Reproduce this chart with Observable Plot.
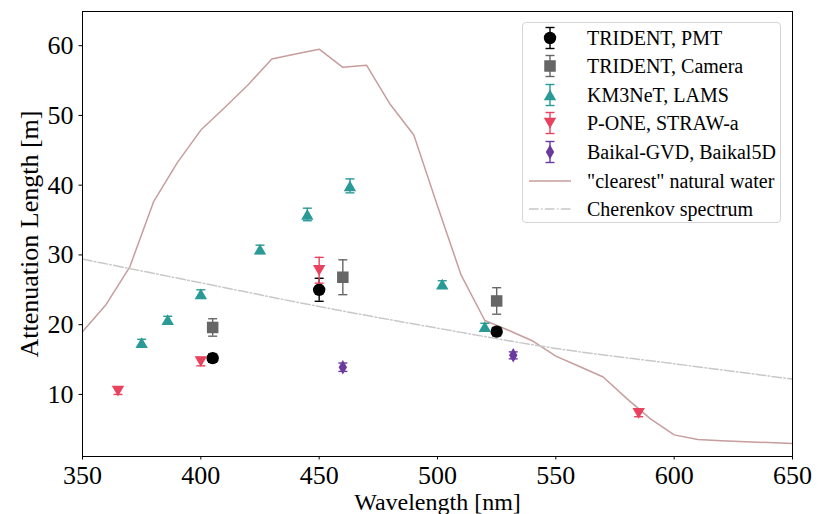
<!DOCTYPE html>
<html>
<head>
<meta charset="utf-8">
<script src="https://cdn.jsdelivr.net/npm/d3@7"></script>
<script src="https://cdn.jsdelivr.net/npm/@observablehq/plot@0.6"></script>
<style>
  body { margin: 0; background: #fff; }
  #wrap { position: relative; width: 818px; height: 514px; overflow: hidden; background: #fff; }
  #legend { position: absolute; left: 522px; top: 22px; width: 259px; height: 201px;
    border: 1px solid #d4d4d4; border-radius: 4px; background: rgba(255,255,255,0.85);
    font-family: "Liberation Serif", "Times New Roman", serif; font-size: 20px; color: #000; box-sizing: border-box; }
  .row { position: absolute; left: 0; height: 28px; width: 258px; }
  .row svg { position: absolute; left: 0; top: 0; }
  .row span { position: absolute; left: 64px; top: 0; line-height: 28px; white-space: nowrap; }
</style>
</head>
<body>
<div id="wrap"><div id="legend"></div></div>
<script>
// ---- data ----
const xTicks = [350, 400, 450, 500, 550, 600, 650];
const yTicks = [10, 20, 30, 40, 50, 60];

const pmtX = [405, 450, 525];
const pmtY = [15.2, 25.0, 19.0];
const pmtErr = [0.6, 1.65, 0.6];

const camX = [405, 460, 525];
const camY = [19.6, 26.8, 23.4];
const camErr = [1.25, 2.5, 1.9];

const lamsX = [375, 386, 400, 425, 445, 463, 502, 520];
const lamsY = [17.4, 20.7, 24.4, 30.8, 35.8, 39.9, 25.8, 19.7];
const lamsErr = [0.5, 0.5, 0.6, 0.6, 0.9, 1.0, 0.5, 0.5];

const poneX = [365, 400, 450, 585];
const poneY = [10.5, 14.7, 27.8, 7.3];
const poneErr = [0.5, 0.6, 1.85, 0.5];

const baikalX = [460, 532];
const baikalY = [13.9, 15.6];
const baikalErr = [0.6, 0.5];

const waterX = [350, 360, 370, 380, 390, 400, 410, 420, 430, 440, 450, 460, 470, 480, 490, 500,
                510, 520, 530, 540, 550, 560, 570, 580, 590, 600, 610, 620, 630, 640, 650];
const waterY = [19.0, 22.9, 28.3, 37.6, 43.2, 47.9, 51.1, 54.4, 58.1, 58.8, 59.5, 56.9, 57.2, 51.6, 47.2, 37.0,
                27.1, 20.6, 19.2, 17.7, 15.5, 14.0, 12.5, 9.4, 6.5, 4.2, 3.55, 3.35, 3.2, 3.1, 2.95];

const cherX = [350, 400, 450, 500, 550, 600, 650];
const cherY = [29.4, 26.0, 22.6, 19.5, 16.6, 14.4, 12.2];

const seriesNames = ["TRIDENT, PMT", "TRIDENT, Camera", "KM3NeT, LAMS", "P-ONE, STRAW-a", "Baikal-GVD, Baikal5D"];
const lineNames = ["\"clearest\" natural water", "Cherenkov spectrum"];

// ---- styling ----
const colors = ["#000000", "#666666", "#2a9a96", "#e8425f", "#6a3a9e"];
const waterColor = "#c79d9d";
const cherColor = "#c8c8c8";
const dashDot = "9.6,2.4,1.5,2.4";

const mk = (xs, ys, es) => xs.map((x, i) => ({x, y: ys[i], lo: ys[i] - es[i], hi: ys[i] + es[i]}));
const pts = (xs, ys) => xs.map((x, i) => ({x, y: ys[i]}));

const capSymbol = {draw(ctx, size) { const w = Math.sqrt(size); ctx.moveTo(-w / 2, 0); ctx.lineTo(w / 2, 0); }};
const capR = Math.sqrt(81 / Math.PI);

const specs = [
  {data: mk(pmtX, pmtY, pmtErr), symbol: "circle", r: 6.2, rotate: 0, dy: 0},
  {data: mk(camX, camY, camErr), symbol: "square", r: 6.5, rotate: 0, dy: 0},
  {data: mk(lamsX, lamsY, lamsErr), symbol: "triangle", r: 4.6, rotate: 0, dy: 1.7},
  {data: mk(poneX, poneY, poneErr), symbol: "triangle", r: 4.6, rotate: 180, dy: -1.7},
  {data: mk(baikalX, baikalY, baikalErr), symbol: "diamond", r: 4.4, rotate: 0, dy: 0}
];

function seriesMarks(s, color) {
  return [
    Plot.ruleX(s.data, {x: "x", y1: "lo", y2: "hi", stroke: color, strokeWidth: 1.4}),
    Plot.dot(s.data, {x: "x", y: "lo", symbol: capSymbol, r: capR, fill: "none", stroke: color, strokeWidth: 1.4}),
    Plot.dot(s.data, {x: "x", y: "hi", symbol: capSymbol, r: capR, fill: "none", stroke: color, strokeWidth: 1.4}),
    Plot.dot(s.data, {x: "x", y: "y", symbol: s.symbol, r: s.r, fill: color, stroke: "none", rotate: s.rotate, dy: s.dy})
  ];
}

const chart = Plot.plot({
  width: 818, height: 514,
  marginLeft: 82, marginRight: 26, marginTop: 11, marginBottom: 58,
  style: {fontFamily: "'Liberation Serif', 'Times New Roman', serif", fontSize: "26px", color: "#000", background: "transparent"},
  x: {domain: [350, 650]},
  y: {domain: [1.1, 64.9]},
  marks: [
    Plot.axisX({ticks: xTicks, tickSize: 3.5, label: null}),
    Plot.axisX({ticks: [], tickSize: 0, label: "Wavelength [nm]", labelAnchor: "center", labelOffset: 53, labelArrow: "none", fontSize: 24}),
    Plot.axisY({ticks: yTicks, tickSize: 3.5, label: "Attenuation Length [m]", labelAnchor: "center", labelOffset: 63, labelArrow: "none"}),
    Plot.line(pts(waterX, waterY), {x: "x", y: "y", stroke: waterColor, strokeWidth: 1.5}),
    Plot.line(pts(cherX, cherY), {x: "x", y: "y", stroke: cherColor, strokeWidth: 1.5, strokeDasharray: dashDot, curve: "monotone-x"}),
    ...specs.flatMap((s, i) => seriesMarks(s, colors[i])),
    Plot.frame({stroke: "#000", strokeWidth: 1})
  ]
});
document.getElementById("wrap").prepend(chart);
chart.style.position = "absolute";
chart.style.left = "0";
chart.style.top = "0";

// ---- legend ----
const legend = d3.select("#legend");
const rowTop = (i) => 0.5 + i * 28.6;
specs.forEach((s, i) => {
  const row = legend.append("div").attr("class", "row").style("top", rowTop(i) + "px");
  const svg = row.append("svg").attr("width", 60).attr("height", 28);
  const cx = 27, cy = 14, color = colors[i];
  svg.append("line").attr("x1", cx).attr("x2", cx).attr("y1", cy - 10.5).attr("y2", cy + 10.5).attr("stroke", color).attr("stroke-width", 1.4);
  [cy - 10.5, cy + 10.5].forEach(y => svg.append("line").attr("x1", cx - 4.5).attr("x2", cx + 4.5).attr("y1", y).attr("y2", y).attr("stroke", color).attr("stroke-width", 1.4));
  const sym = {circle: d3.symbolCircle, square: d3.symbolSquare, triangle: d3.symbolTriangle, diamond: d3.symbolDiamond}[s.symbol];
  svg.append("path").attr("d", d3.symbol(sym, Math.PI * s.r * s.r)())
    .attr("transform", `translate(${cx},${cy + s.dy}) rotate(${s.rotate})`).attr("fill", color);
  row.append("span").text(seriesNames[i]);
});
lineNames.forEach((name, j) => {
  const i = specs.length + j;
  const row = legend.append("div").attr("class", "row").style("top", rowTop(i) + "px");
  const svg = row.append("svg").attr("width", 60).attr("height", 28);
  svg.append("line").attr("x1", 6).attr("x2", 48).attr("y1", 14).attr("y2", 14)
    .attr("stroke", j === 0 ? waterColor : cherColor).attr("stroke-width", 1.5)
    .attr("stroke-dasharray", j === 0 ? null : dashDot);
  row.append("span").text(name);
});
</script>
</body>
</html>
